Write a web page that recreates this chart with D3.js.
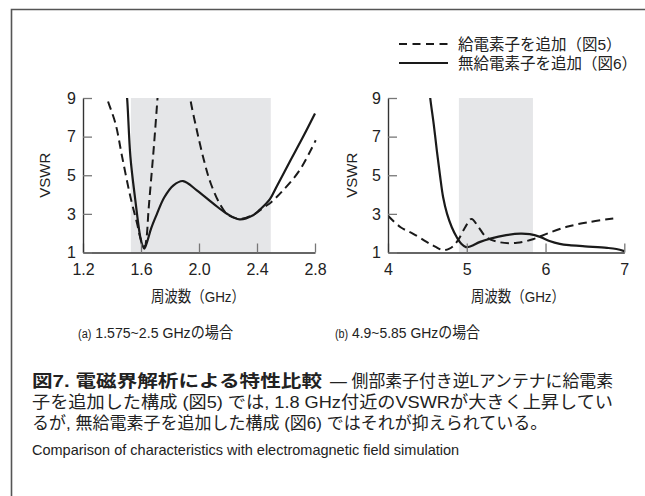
<!DOCTYPE html>
<html><head><meta charset="utf-8">
<script src="https://cdn.jsdelivr.net/npm/d3@7"></script>
<style>
html,body{margin:0;padding:0;background:#fff;}
svg{display:block;}
text{font-family:"Liberation Sans","Noto Sans CJK JP",sans-serif;fill:#222;}
</style></head><body>
<svg id="c" width="645" height="496"></svg>
<script>
// ---- data ----
const yTicks = [1, 3, 5, 7, 9];
const xTicksA = [1.2, 1.6, 2.0, 2.4, 2.8];
const xTicksB = [4, 5, 6, 7];
const bandA = [1.53, 2.495];
const bandB = [4.9, 5.84];
// panel (a) 無給電素子を追加(図6) solid
const solidA = [[1.497,9.4],[1.504,9.0],[1.527,5.95],[1.561,3.70],[1.595,1.80],[1.61,1.36],[1.623,1.2],[1.642,1.55],[1.67,2.25],[1.71,3.0],[1.76,3.85],[1.824,4.48],[1.89,4.70],[1.985,4.22],[2.099,3.53],[2.19,3.02],[2.28,2.72],[2.373,2.93],[2.42,3.22],[2.488,3.75],[2.534,4.39],[2.625,5.69],[2.717,6.98],[2.8,8.2]];
// panel (a) 給電素子を追加(図5) dashed, two branches
const dashedA1 = [[1.355,9.5],[1.366,9.0],[1.424,7.68],[1.47,5.95],[1.527,3.88],[1.573,2.5],[1.60,1.65],[1.625,1.3],[1.638,1.75],[1.652,3.2],[1.67,4.8],[1.69,6.6],[1.714,9.0],[1.72,9.6]];
const dashedA2 = [[1.933,9.5],[1.939,9.0],[1.985,7.33],[2.035,5.75],[2.08,4.6],[2.145,3.5],[2.2,2.95],[2.28,2.74],[2.373,2.95],[2.45,3.35],[2.50,3.62],[2.58,4.22],[2.694,5.26],[2.805,6.81]];
// panel (b)
const solidB = [[4.528,9.4],[4.536,9.0],[4.58,7.66],[4.62,6.28],[4.66,5.0],[4.70,3.86],[4.75,3.0],[4.81,2.31],[4.875,1.78],[4.93,1.45],[4.99,1.28],[5.05,1.32],[5.17,1.55],[5.30,1.72],[5.50,1.90],[5.68,1.98],[5.80,1.95],[5.93,1.81],[6.05,1.60],[6.18,1.45],[6.30,1.38],[6.50,1.32],[6.78,1.24],[6.9,1.18],[7.0,1.07]];
const dashedB = [[4.0,2.9],[4.16,2.31],[4.32,1.97],[4.49,1.55],[4.60,1.3],[4.70,1.12],[4.78,1.2],[4.84,1.38],[4.90,1.71],[4.98,2.31],[5.06,2.74],[5.15,2.31],[5.25,1.79],[5.42,1.53],[5.64,1.50],[5.85,1.70],[6.02,1.98],[6.27,2.33],[6.56,2.58],[6.86,2.76]];
const legendLabels = ["給電素子を追加（図5）", "無給電素子を追加（図6）"];
const subCaptions = [["(a)", " 1.575~2.5 GHzの場合"], ["(b)", " 4.9~5.85 GHzの場合"]];

const svg = d3.select("#c");
svg.append("rect").attr("width",645).attr("height",496).attr("fill","#fff");
// frame
svg.append("path").attr("d","M11.5,496V9.5H645").attr("fill","none").attr("stroke","#555").attr("stroke-width",1.6);

const yTop = 98, yBot = 252.5;
const y = d3.scaleLinear().domain([1,9]).range([yBot,yTop]);
const DASH = "8.5,5";

function panel(id, x, xTicks, fmt, band, series, xLabelX, vLabelX) {
  const g = svg.append("g");
  const [x0,x1] = x.range();
  g.append("rect").attr("x",x(band[0])).attr("width",x(band[1])-x(band[0]))
    .attr("y",yTop).attr("height",yBot-yTop).attr("fill","#e5e6e8");
  g.append("clipPath").attr("id","clip"+id).append("rect")
    .attr("x",x0).attr("y",yTop).attr("width",x1-x0+2).attr("height",yBot-yTop+3);
  const line = d3.line().x(d=>x(d[0])).y(d=>y(d[1])).curve(d3.curveCatmullRom.alpha(0.5));
  const lg = g.append("g").attr("clip-path",`url(#clip${id})`);
  series.forEach(s=>{
    lg.append("path").attr("d",line(s.data)).attr("fill","none")
      .attr("stroke","#1a1a1a").attr("stroke-width",s.dash?2:2.2)
      .attr("stroke-dasharray",s.dash?DASH:null).attr("stroke-linejoin","round");
  });
  const xa = g.append("g").attr("transform",`translate(0,${yBot})`)
    .call(d3.axisBottom(x).tickValues(xTicks).tickFormat(fmt).tickSize(-9).tickSizeOuter(0).tickPadding(11));
  const ya = g.append("g").attr("transform",`translate(${x0},0)`)
    .call(d3.axisLeft(y).tickValues(yTicks).tickSize(-9).tickSizeOuter(0).tickPadding(7));
  [xa,ya].forEach(a=>{
    a.select(".domain").attr("stroke","#333").attr("stroke-width",1.4);
    a.selectAll(".tick line").attr("stroke","#777").attr("stroke-width",1.3);
    a.selectAll(".tick text").attr("font-size",16).attr("fill","#222")
      .attr("font-family","Liberation Sans, sans-serif");
  });
  g.append("text").attr("transform",`translate(${vLabelX},${(yTop+yBot)/2}) rotate(-90)`)
    .attr("text-anchor","middle").attr("dy","0.36em").attr("font-size",15).text("VSWR");
  g.append("text").attr("x",xLabelX).attr("y",302).attr("text-anchor","middle")
    .attr("font-size",15.5).attr("textLength",94).attr("lengthAdjust","spacingAndGlyphs").text("周波数（GHz）");
}

const xA = d3.scaleLinear().domain([1.2,2.8]).range([83,315]);
const xB = d3.scaleLinear().domain([4,7]).range([388,624.3]);
panel("a", xA, xTicksA, d3.format(".1f"), bandA,
  [{data:dashedA1,dash:true},{data:dashedA2,dash:true},{data:solidA,dash:false}], 198, 45);
panel("b", xB, xTicksB, d3.format("d"), bandB,
  [{data:dashedB,dash:true},{data:solidB,dash:false}], 518, 352);

// legend
const leg = svg.append("g");
legendLabels.forEach((t,i)=>{
  const ly = 44 + i*19;
  leg.append("line").attr("x1",399).attr("x2",448).attr("y1",ly).attr("y2",ly)
    .attr("stroke","#1a1a1a").attr("stroke-width",2).attr("stroke-dasharray",i===0?"8,5.5":null);
  leg.append("text").attr("x",458).attr("y",ly).attr("dy","0.36em").attr("font-size",15.5)
    .attr("font-family","Noto Sans CJK JP, sans-serif").text(t);
});

// sub captions
[[78,subCaptions[0],155],[335,subCaptions[1],145]].forEach(([sx,sc,w])=>{
  const t = svg.append("text").attr("x",sx).attr("y",338).attr("font-size",15.5)
    .attr("textLength",w).attr("lengthAdjust","spacingAndGlyphs")
    .attr("font-family","Liberation Sans, Noto Sans CJK JP, sans-serif");
  t.append("tspan").attr("font-size",12).text(sc[0]);
  t.append("tspan").text(sc[1]);
});

// caption
const serif = "Noto Serif CJK JP, Liberation Serif, Noto Sans CJK JP, serif";
svg.append("text").attr("x",32).attr("y",387).attr("font-size",17)
  .attr("textLength",290).attr("lengthAdjust","spacingAndGlyphs")
  .attr("font-weight","bold").attr("font-family","Noto Sans CJK JP, sans-serif").attr("fill","#111")
  .text("図7. 電磁界解析による特性比較");
svg.append("text").attr("x",330).attr("y",387).attr("font-size",17)
  .attr("textLength",283).attr("lengthAdjust","spacingAndGlyphs")
  .attr("font-family",serif).attr("fill","#333").text("— 側部素子付き逆Lアンテナに給電素");
svg.append("text").attr("x",32).attr("y",408).attr("font-size",17).attr("font-family",serif).attr("fill","#333")
  .attr("textLength",581).attr("lengthAdjust","spacingAndGlyphs")
  .text("子を追加した構成 (図5) では, 1.8 GHz付近のVSWRが大きく上昇してい");
svg.append("text").attr("x",32).attr("y",429).attr("font-size",17).attr("font-family",serif).attr("fill","#333")
  .text("るが, 無給電素子を追加した構成 (図6) ではそれが抑えられている。");
svg.append("text").attr("x",32).attr("y",455).attr("font-size",14.5).attr("fill","#333")
  .attr("font-family","Liberation Sans, sans-serif")
  .text("Comparison of characteristics with electromagnetic field simulation");
</script></body></html>
